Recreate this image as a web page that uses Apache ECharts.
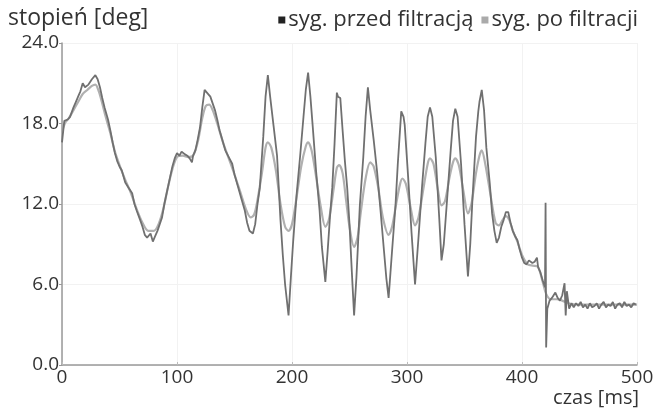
<!DOCTYPE html>
<html><head><meta charset="utf-8">
<script src="https://cdn.jsdelivr.net/npm/echarts@6/dist/echarts.min.js"></script>
<style>html,body{margin:0;padding:0;background:#fff}#c{width:669px;height:412px}</style>
</head><body><div id="c"></div>
<script>
var seriesNames = ['syg. przed filtracją', 'syg. po filtracji'];
var yTicks = [0, 6, 12, 18, 24];
var xTicks = [0, 100, 200, 300, 400, 500];
var rawSignal = [[0,16.6],[2,18.2],[5,18.3],[7,18.5],[10,19.2],[12,19.6],[14,20.0],[16,20.4],[18,21.0],[20,20.7],[23,20.9],[26,21.3],[29,21.6],[31,21.3],[33,20.7],[35,19.9],[37,19.2],[40,18.3],[42,17.5],[44,16.6],[46,15.8],[48,15.2],[50,14.8],[52,14.5],[55,13.6],[58,13.2],[61,12.8],[63,12.0],[65,11.5],[68,10.8],[70,10.3],[72,9.7],[74,9.5],[77,9.8],[79,9.2],[81,9.6],[83,10.0],[85,10.5],[87,11.0],[89,12.0],[91,12.8],[94,14.0],[96,14.8],[98,15.4],[100,15.8],[102,15.6],[104,15.9],[107,15.7],[109,15.6],[111,15.4],[113,15.1],[114,15.6],[116,16.0],[118,16.8],[120,17.7],[122,19.2],[124,20.5],[126,20.3],[129,20.0],[131,19.5],[133,19.0],[135,18.3],[137,17.5],[140,16.6],[142,16.0],[145,15.5],[148,15.0],[150,14.2],[153,13.3],[156,12.4],[159,11.5],[161,10.6],[163,10.0],[166,9.8],[168,10.5],[170,12.0],[172,13.2],[175,17.0],[177,20.0],[179,21.6],[181,20.0],[184,17.8],[187,15.6],[190,10.8],[192,8.2],[194,6.0],[197,3.7],[199,6.5],[201,9.2],[204,12.7],[207,15.5],[210,18.5],[212,20.5],[214,21.8],[216,20.0],[218,17.8],[221,14.4],[224,11.5],[226,8.8],[229,6.2],[231,8.5],[233,11.0],[235,13.2],[237,16.5],[239,20.3],[240,20.0],[242,19.9],[244,17.5],[246,15.2],[248,13.2],[250,10.5],[252,7.0],[254,3.7],[256,6.5],[259,11.9],[262,15.5],[264,18.5],[266,20.7],[268,19.0],[271,16.8],[274,14.4],[277,11.5],[280,8.5],[282,6.5],[284,5.0],[287,8.5],[290,11.9],[292,15.0],[295,18.9],[297,18.5],[298,17.9],[301,14.0],[304,9.8],[307,6.0],[310,9.5],[313,13.2],[316,16.5],[318,18.5],[320,19.2],[322,18.5],[325,15.5],[328,11.0],[330,7.8],[332,9.0],[335,12.5],[338,16.0],[340,18.2],[342,19.1],[344,18.5],[347,15.0],[350,10.5],[353,6.6],[355,9.0],[357,12.5],[360,17.0],[362,18.9],[363,19.6],[365,20.5],[367,19.0],[369,16.2],[372,13.5],[374,11.3],[376,10.0],[378,9.1],[380,9.5],[382,10.3],[384,10.8],[386,11.4],[388,11.4],[390,10.6],[392,10.0],[394,9.6],[396,9.3],[398,8.6],[400,8.0],[402,7.6],[404,7.5],[406,7.8],[409,7.6],[411,7.7],[413,8.0],[414,7.3],[416,6.9],[418,6.3],[420,5.8],[420.5,12.1],[421,1.3],[422,4.2],[424,4.8],[426,5.0],[429,5.4],[431,5.0],[433,4.8],[435,5.2],[437,6.1],[438,3.7],[439,5.5],[441,4.2],[443,4.6],[445,4.3],[447,4.6],[449,4.4],[451,4.7],[453,4.3],[455,4.5],[457,4.2],[459,4.6],[461,4.3],[463,4.4],[465,4.6],[467,4.2],[469,4.5],[471,4.7],[473,4.3],[475,4.5],[477,4.4],[479,4.7],[481,4.2],[483,4.5],[485,4.6],[487,4.3],[489,4.7],[491,4.4],[493,4.5],[495,4.3],[497,4.6],[499,4.5]];
var filteredSignal = [[0,17.4],[3,18.1],[6,18.4],[10,19.0],[14,19.6],[18,20.2],[22,20.5],[26,20.8],[29,20.9],[32,20.4],[35,19.5],[38,18.5],[42,17.3],[46,15.9],[50,14.9],[55,13.8],[60,12.8],[65,11.6],[70,10.6],[75,10.0],[80,10.0],[84,10.5],[88,11.6],[92,13.2],[96,14.6],[100,15.5],[105,15.6],[110,15.5],[114,15.6],[118,16.6],[122,18.4],[125,19.3],[128,19.4],[131,19.0],[135,18.0],[140,16.6],[145,15.4],[150,14.2],[155,12.9],[160,11.6],[164,11.0],[167,11.2],[170,12.3],[174,14.4],[177,16.2],[179,16.6],[182,16.2],[186,14.5],[190,12.0],[194,10.3],[197,10.0],[200,10.5],[204,12.5],[208,14.8],[212,16.3],[214,16.6],[217,16.0],[221,14.0],[225,11.8],[229,10.3],[232,10.8],[236,13.0],[239,14.7],[241,14.9],[244,14.3],[247,12.3],[250,10.3],[254,8.8],[257,9.5],[260,11.5],[264,13.9],[268,15.1],[271,14.8],[275,13.2],[279,11.0],[284,9.7],[287,10.3],[291,12.2],[294,13.5],[296,13.9],[299,13.5],[303,11.8],[307,10.4],[310,11.0],[314,13.0],[318,15.0],[320,15.4],[323,15.0],[327,13.0],[330,11.9],[333,12.2],[337,14.0],[340,15.1],[342,15.4],[345,14.9],[349,13.0],[353,11.3],[356,12.0],[360,14.3],[363,15.6],[365,16.0],[368,15.0],[372,13.0],[377,10.6],[380,10.4],[383,10.8],[386,11.1],[389,10.8],[392,10.0],[396,9.2],[400,8.2],[405,7.5],[410,7.4],[414,7.3],[418,6.2],[421,5.3],[425,4.9],[430,4.9],[435,4.8],[440,4.6],[450,4.5],[460,4.5],[470,4.5],[480,4.5],[490,4.5],[500,4.5]];

var FONT = 'Open Sans';
var chart = echarts.init(document.getElementById('c'), null, {renderer: 'canvas'});
chart.setOption({
  animation: false,
  backgroundColor: '#fff',
  textStyle: {fontFamily: FONT},
  title: [
    {text: 'stopień [deg]', left: 3, top: 2, textStyle: {fontFamily: FONT, fontSize: 23, fontWeight: 'normal', color: '#333'}},
    {text: 'czas [ms]', right: 25, top: 383, textStyle: {fontFamily: FONT, fontSize: 20, fontWeight: 'normal', color: '#333'}}
  ],
  legend: {
    right: 26, top: 4, icon: 'rect', itemWidth: 7, itemHeight: 7, itemGap: 8,
    textStyle: {fontFamily: FONT, fontSize: 22, color: '#333', padding: [0,0,0,-2]},
    data: [{name: seriesNames[0], itemStyle: {color: '#222'}}, {name: seriesNames[1], itemStyle: {color: '#aaa'}}]
  },
  grid: {left: 62, right: 32, top: 43, bottom: 47, containLabel: false},
  xAxis: {
    type: 'value', min: xTicks[0], max: xTicks[xTicks.length-1], interval: 100,
    axisLine: {lineStyle: {color: '#999', width: 1.5}},
    axisTick: {show: true, inside: true, length: 3, lineStyle: {color: '#bbb'}},
    axisLabel: {fontFamily: FONT, fontSize: 19, color: '#333', margin: 3},
    splitLine: {show: true, lineStyle: {color: '#f2f2f2'}}
  },
  yAxis: {
    type: 'value', min: yTicks[0], max: yTicks[yTicks.length-1], interval: 6,
    axisLine: {show: true, lineStyle: {color: '#999', width: 1.5}},
    axisTick: {show: true, length: 3, lineStyle: {color: '#999'}},
    axisLabel: {fontFamily: FONT, fontSize: 19, color: '#333', margin: 3, formatter: function(v){return v.toFixed(1);}},
    splitLine: {show: true, lineStyle: {color: '#f2f2f2'}}
  },
  series: [
    {name: seriesNames[0], type: 'line', data: rawSignal, showSymbol: false, z: 3,
     color: '#222', lineStyle: {color: '#707070', width: 1.8}},
    {name: seriesNames[1], type: 'line', data: filteredSignal, showSymbol: false, z: 2, smooth: 0.3,
     color: '#aaa', lineStyle: {color: '#b0b0b0', width: 2.2}}
  ]
});
</script></body></html>
